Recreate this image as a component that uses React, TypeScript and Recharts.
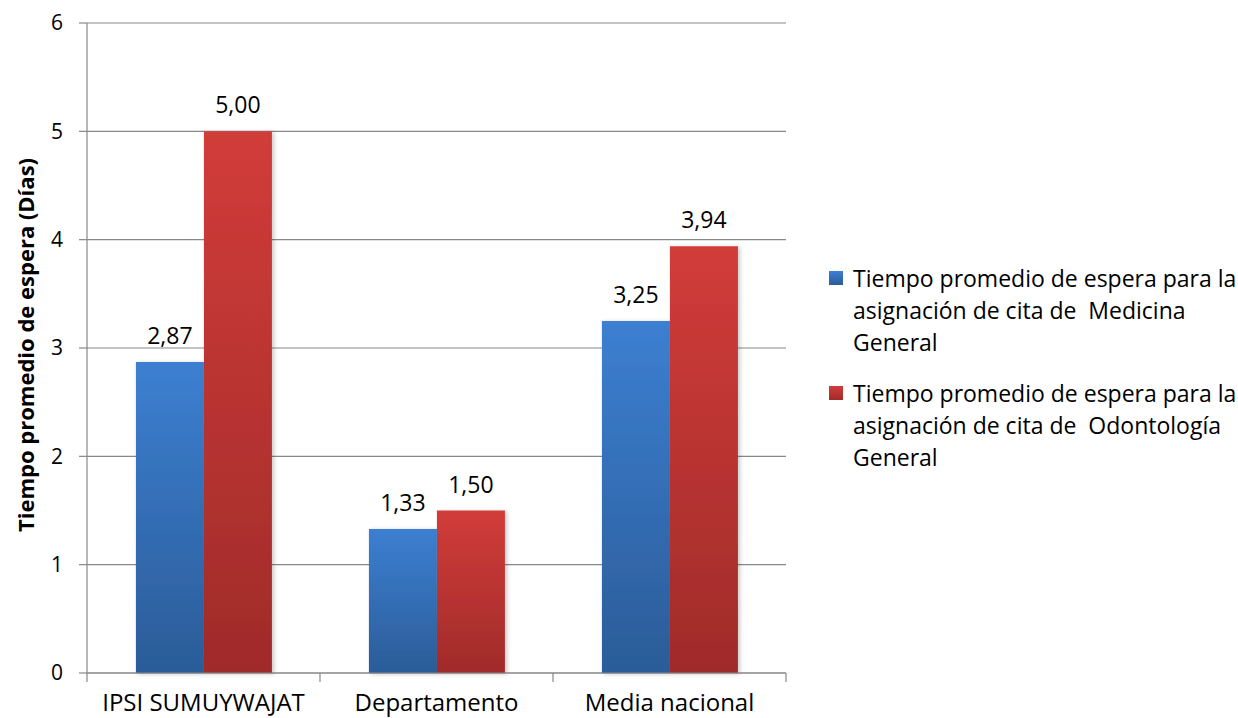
import React from "react";
import { BarChart, Bar, XAxis, YAxis, CartesianGrid, Legend, LabelList } from "recharts";

// values
const categories = ["IPSI SUMUYWAJAT", "Departamento", "Media nacional"];
const medicina = [2.87, 1.33, 3.25];
const odontologia = [5.0, 1.5, 3.94];
const yTicks = [0, 1, 2, 3, 4, 5, 6];

const medicinaName = "Tiempo promedio de espera para la\nasignación de cita de  Medicina\nGeneral";
const odontologiaName = "Tiempo promedio de espera para la\nasignación de cita de  Odontología\nGeneral";
const yLabel = "Tiempo promedio de espera (Días)";

const FONT = "'Open Sans', Lato, sans-serif";
const GRAY = "#888888";

const data = categories.map((c, i) => ({
	name: c,
	medicina: medicina[i],
	odontologia: odontologia[i],
}));

const fmt = (v: any) => Number(v).toFixed(2).replace(".", ",");

const legendGradients: Record<string, string> = {
	medicina: "linear-gradient(#3c7fd1, #2b5c98)",
	odontologia: "linear-gradient(#d13c39, #a02b2a)",
};

// category label plus tick marks on the band edges (Excel style)
function CategoryTick(props: any) {
	const { x, y, payload, index, visibleTicksCount, width } = props;
	const half = payload && payload.offset ? payload.offset : width / (visibleTicksCount || 3) / 2;
	const axisY = y - 17;
	const last = index === (visibleTicksCount || 3) - 1;
	return (
		<g>
			<line x1={x - half} x2={x - half} y1={axisY} y2={axisY + 9} stroke={GRAY} strokeWidth={1.2} />
			{last && <line x1={x + half} x2={x + half} y1={axisY} y2={axisY + 9} stroke={GRAY} strokeWidth={1.2} />}
			<text x={x} y={y} dy={21} textAnchor="middle" fill="#000" fontSize={24} fontFamily={FONT}>
				{payload.value}
			</text>
		</g>
	);
}

function LegendBox(props: any) {
	const { payload } = props;
	return (
		<div style={{ fontFamily: FONT, fontSize: 23, color: "#000" }}>
			{(payload || []).map((entry: any, i: number) => (
				<div key={i} style={{ display: "flex", alignItems: "flex-start", marginBottom: i === 0 ? 19 : 0 }}>
					<div
						style={{
							width: 14,
							height: 14,
							marginTop: 9,
							marginRight: 10,
							background: legendGradients[entry.dataKey] || entry.color,
							flex: "none",
						}}
					/>
					<div>
						{String(entry.value)
							.split("\n")
							.map((line, j) => (
								<div key={j} style={{ lineHeight: "32px", whiteSpace: "pre" }}>
									{line}
								</div>
							))}
					</div>
				</div>
			))}
		</div>
	);
}

export default function App() {
	return (
		<div style={{ position: "absolute", left: 0, top: 0, background: "#fff" }}>
			<BarChart
				width={1238}
				height={718}
				data={data}
				margin={{ top: 23, right: 42, bottom: 0, left: 0 }}
				barCategoryGap="21%"
				barGap={0}
				style={{ fontFamily: FONT }}
			>
				<defs>
					<linearGradient id="gBlue" x1="0" y1="0" x2="0" y2="1">
						<stop offset="0%" stopColor="#3c7fd1" />
						<stop offset="100%" stopColor="#2b5c98" />
					</linearGradient>
					<linearGradient id="gRed" x1="0" y1="0" x2="0" y2="1">
						<stop offset="0%" stopColor="#d13c39" />
						<stop offset="100%" stopColor="#a02b2a" />
					</linearGradient>
					<filter id="barShadow" x="-10%" y="-10%" width="130%" height="130%">
						<feDropShadow dx="2" dy="1" stdDeviation="2" floodColor="#000" floodOpacity="0.22" />
					</filter>
				</defs>
				<CartesianGrid vertical={false} stroke={GRAY} strokeWidth={1.2} />
				<XAxis
					dataKey="name"
					height={45}
					axisLine={{ stroke: GRAY, strokeWidth: 1.2 }}
					tickLine={false}
					tickSize={0}
					tickMargin={17}
					interval={0}
					tick={<CategoryTick />}
				/>
				<YAxis
					width={87}
					domain={[0, 6]}
					ticks={yTicks}
					interval={0}
					axisLine={{ stroke: GRAY, strokeWidth: 1.2 }}
					tickLine={{ stroke: GRAY, strokeWidth: 1.2 }}
					tickSize={8}
					tickMargin={16}
					tick={{ fill: "#000", fontSize: 21, fontFamily: FONT }}
					label={{
						content: (p: any) => {
							const vb = p.viewBox || { x: 0, y: 23, width: 87, height: 650 };
							const x = vb.x + 34;
							const y = vb.y + vb.height / 2 - 3;
							return (
								<text
									x={x}
									y={y}
									transform={`rotate(-90, ${x}, ${y})`}
									textAnchor="middle"
									fontFamily={FONT}
									fontSize={22}
									fontWeight={700}
									fill="#000"
								>
									{yLabel}
								</text>
							);
						},
					}}
				/>
				<Legend
					layout="vertical"
					align="right"
					verticalAlign="middle"
					content={<LegendBox />}
					wrapperStyle={{ width: 410, left: 829, right: "auto", top: 262 }}
				/>
				<Bar dataKey="medicina" name={medicinaName} fill="url(#gBlue)" filter="url(#barShadow)" isAnimationActive={false}>
					<LabelList dataKey="medicina" position="top" offset={18} formatter={fmt} fill="#000" fontSize={23} fontFamily={FONT} />
				</Bar>
				<Bar dataKey="odontologia" name={odontologiaName} fill="url(#gRed)" filter="url(#barShadow)" isAnimationActive={false}>
					<LabelList dataKey="odontologia" position="top" offset={18} formatter={fmt} fill="#000" fontSize={23} fontFamily={FONT} />
				</Bar>
			</BarChart>
		</div>
	);
}
